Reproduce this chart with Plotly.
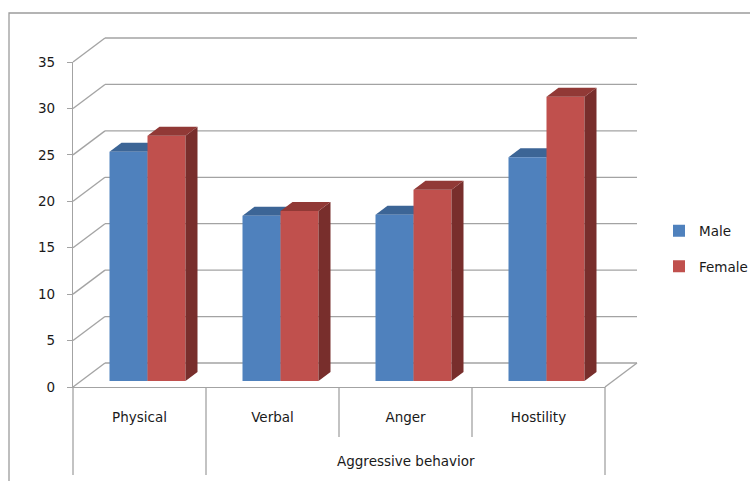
import plotly.graph_objects as go

# ---------------- data ----------------
categories = ["Physical", "Verbal", "Anger", "Hostility"]
male = [24.7, 17.8, 17.9, 24.1]
female = [26.4, 18.3, 20.6, 30.6]
group_label = "Aggressive behavior"
group_start = 1  # group label spans categories from this index to the end
y_ticks = [0, 5, 10, 15, 20, 25, 30, 35]
series_names = ["Male", "Female"]

# ---------------- geometry / style ----------------
W, H = 750, 481
PL, PR, PT, PB = 73, 605, 62, 387          # plot area in pixels (front box)
XR = [0, len(categories)]
YR = [0, 35]
pxx = (PR - PL) / (XR[1] - XR[0])
pxy = (PB - PT) / (YR[1] - YR[0])
DX = 32 / pxx          # full depth offset (x units)
DY = 24 / pxy          # full depth offset (y units)
F_FRONT, F_BACK = 0.25, 0.625
BW = 1 / 3.5           # bar width (gap width 150%)
s = F_FRONT * DX
y0 = F_FRONT * DY
sd = (F_BACK - F_FRONT) * DX
dd = (F_BACK - F_FRONT) * DY

GRID = "#a3a3a3"
FONT = dict(family="DejaVu Sans", size=13.5, color="#1a1a1a")
C_M, C_M_TOP, C_M_SIDE = "#4F81BD", "#3C6596", "#2F4F78"
C_F, C_F_TOP, C_F_SIDE = "#C0504D", "#913936", "#782E2C"


def xp(x):
    return (x - XR[0]) / (XR[1] - XR[0])


def yp(y):
    return (y - YR[0]) / (YR[1] - YR[0])


def pxp_x(px):
    return (px - PL) / (PR - PL)


def pxp_y(py):
    return (PB - py) / (PB - PT)


shapes = []
# outer chart border
shapes.append(dict(type="rect", xref="paper", yref="paper",
                   x0=pxp_x(9), x1=pxp_x(790), y0=pxp_y(520), y1=pxp_y(13),
                   line=dict(color="#9c9c9c", width=1.3), layer="below"))
# walls: side diagonals and back gridlines
for v in y_ticks:
    shapes.append(dict(type="line", xref="paper", yref="paper", layer="below",
                       x0=xp(0), y0=yp(v), x1=xp(DX), y1=yp(v + DY),
                       line=dict(color=GRID, width=1.3)))
    shapes.append(dict(type="line", xref="paper", yref="paper", layer="below",
                       x0=xp(DX), y0=yp(v + DY), x1=xp(XR[1] + DX), y1=yp(v + DY),
                       line=dict(color=GRID, width=1.3)))
# floor right diagonal
shapes.append(dict(type="line", xref="paper", yref="paper", layer="below",
                   x0=xp(XR[1]), y0=yp(0), x1=xp(XR[1] + DX), y1=yp(DY),
                   line=dict(color=GRID, width=1.3)))
# category dividers
n = len(categories)
for i in range(n + 1):
    long = i in (0, group_start, n)
    shapes.append(dict(type="line", xref="paper", yref="paper", layer="below",
                       x0=xp(i), x1=xp(i), y0=yp(0),
                       y1=pxp_y(475 if long else 437),
                       line=dict(color=GRID, width=1.3)))

centers = [i + 0.5 for i in range(n)]


def poly(pts):
    return "M" + " L".join(f"{x},{y}" for x, y in pts) + " Z"


# male side and top faces (behind female front faces)
for c, vm in zip(centers, male):
    xl, xr = c - BW + s, c + s
    shapes.append(dict(type="path", xref="x", yref="y", layer="below",
                       path=poly([(xr, y0), (xr + sd, y0 + dd), (xr + sd, y0 + dd + vm), (xr, y0 + vm)]),
                       fillcolor=C_M_SIDE, line=dict(width=0)))
    shapes.append(dict(type="path", xref="x", yref="y", layer="below",
                       path=poly([(xl, y0 + vm), (xr, y0 + vm), (xr + sd, y0 + vm + dd), (xl + sd, y0 + vm + dd)]),
                       fillcolor=C_M_TOP, line=dict(width=0)))

fig = go.Figure()
fig.add_trace(go.Bar(x=[c + s for c in centers], y=male, base=y0, offset=-BW, width=BW,
                     name=series_names[0], marker=dict(color=C_M, line=dict(width=0)),
                     legendgroup="m"))
fig.add_trace(go.Bar(x=[c + s for c in centers], y=female, base=y0, offset=0, width=BW,
                     name=series_names[1], marker=dict(color=C_F, line=dict(width=0)),
                     legendgroup="f"))

# female side and top faces
sx, sy, tx, ty = [], [], [], []
for c, vf in zip(centers, female):
    xl, xr = c + s, c + s + BW
    for x, y in [(xr, y0), (xr + sd, y0 + dd), (xr + sd, y0 + dd + vf), (xr, y0 + vf), (xr, y0)]:
        sx.append(x); sy.append(y)
    sx.append(None); sy.append(None)
    for x, y in [(xl, y0 + vf), (xr, y0 + vf), (xr + sd, y0 + vf + dd), (xl + sd, y0 + vf + dd), (xl, y0 + vf)]:
        tx.append(x); ty.append(y)
    tx.append(None); ty.append(None)
fig.add_trace(go.Scatter(x=sx, y=sy, fill="toself", fillcolor=C_F_SIDE, mode="none",
                         showlegend=False, hoverinfo="skip"))
fig.add_trace(go.Scatter(x=tx, y=ty, fill="toself", fillcolor=C_F_TOP, mode="none",
                         showlegend=False, hoverinfo="skip"))

fig.add_annotation(text=group_label, xref="x", yref="paper",
                   x=(group_start + n) / 2, y=pxp_y(461), yanchor="middle",
                   showarrow=False, font=FONT)

fig.update_layout(
    width=W, height=H,
    margin=dict(l=PL, r=W - PR, t=PT, b=H - PB, pad=0, autoexpand=False),
    paper_bgcolor="white", plot_bgcolor="rgba(0,0,0,0)",
    barmode="overlay",
    shapes=shapes,
    font=FONT,
    showlegend=True,
    legend=dict(x=pxp_x(659), y=pxp_y(249), xanchor="left", yanchor="middle",
                font=FONT, traceorder="grouped", tracegroupgap=15,
                itemwidth=30, bgcolor="rgba(0,0,0,0)"),
    xaxis=dict(range=XR, tickvals=centers, ticktext=categories, showgrid=False,
               zeroline=False, showline=True, linecolor=GRID, linewidth=1.3,
               ticks="outside", ticklen=18, tickcolor="rgba(0,0,0,0)",
               tickfont=FONT, fixedrange=True),
    yaxis=dict(range=YR, tickvals=y_ticks, showgrid=False, zeroline=False,
               showline=True, linecolor=GRID, linewidth=1.3,
               ticks="outside", ticklen=5, tickcolor=GRID, tickwidth=1.3,
               tickfont=FONT, ticklabelstandoff=9, fixedrange=True),
)

fig.write_html("out.html")
